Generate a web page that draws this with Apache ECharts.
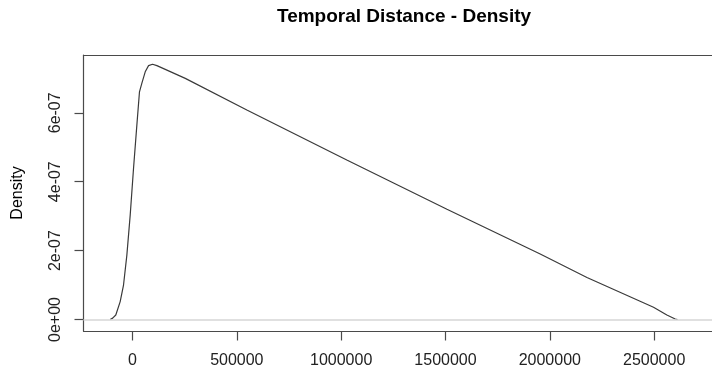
<!DOCTYPE html>
<html>
<head>
<meta charset="utf-8">
<title>Temporal Distance - Density</title>
<script src="https://cdn.jsdelivr.net/npm/echarts@6/dist/echarts.min.js"></script>
<style>
  html, body { margin: 0; padding: 0; background: #fff; }
  #chart { width: 712px; height: 371px; }
</style>
</head>
<body>
<div id="chart"></div>
<script>
// Kernel density estimate of temporal distance (x) and density (y)
var distance = [-107000, -95000, -80000, -59000, -43000, -27000, -11000, 5000, 21000, 33500,
                45000, 61000, 77000, 96000, 117000, 253000, 548000, 1027000, 1507000, 1954000,
                2178000, 2497000, 2561000, 2601000, 2612000];
var density = [0.0e-7, 0.04e-7, 0.13e-7, 0.52e-7, 1.00e-7, 1.87e-7, 3.03e-7, 4.39e-7, 5.65e-7, 6.61e-7,
               6.86e-7, 7.19e-7, 7.37e-7, 7.41e-7, 7.37e-7, 7.00e-7, 6.08e-7, 4.63e-7, 3.20e-7, 1.90e-7,
               1.22e-7, 0.354e-7, 0.13e-7, 0.015e-7, 0.0e-7];

// Axis ticks
var xTicks = [0, 500000, 1000000, 1500000, 2000000, 2500000];
var yTicks = [0, 2e-7, 4e-7, 6e-7];

var FONT = '"Liberation Sans", Arial, sans-serif';
var FRAME = { color: '#4a4a4a', width: 1.2 };

function expLabel(v) {
  // R-style scientific notation, e.g. 2e-07, 0e+00
  var s = Number(v).toExponential(0);
  var m = s.match(/^(-?\d)e([+-])(\d+)$/);
  if (!m) return s;
  var e = m[3].length < 2 ? '0' + m[3] : m[3];
  return m[1] + 'e' + m[2] + e;
}

var points = distance.map(function (d, i) { return [d, density[i]]; });

// The plot frame runs past the right edge of the canvas, so the x range
// ends where the canvas ends and the frame is drawn from axis lines.
var X_MIN = -234800, X_MAX = 2777300;
var Y_MIN = -0.334e-7, Y_MAX = 7.678e-7;

var chart = echarts.init(document.getElementById('chart'), null, { renderer: 'canvas' });
chart.setOption({
  animation: false,
  backgroundColor: '#ffffff',
  graphic: [{
    type: 'text',
    x: 404,
    y: 17,
    style: {
      text: 'Temporal Distance - Density',
      font: 'bold 19px ' + FONT,
      fill: '#000000',
      align: 'center',
      verticalAlign: 'middle'
    }
  }],
  grid: {
    left: 83.5,
    top: 55,
    right: 0,
    bottom: 40,
    outerBoundsMode: 'none',
    containLabel: false,
    show: false
  },
  xAxis: [{
    type: 'value',
    position: 'bottom',
    min: X_MIN,
    max: X_MAX,
    splitLine: { show: false },
    axisLine: { show: true, onZero: false, lineStyle: FRAME },
    axisTick: {
      show: true, inside: false, length: 9.5,
      customValues: xTicks,
      lineStyle: FRAME
    },
    axisLabel: {
      show: true,
      customValues: xTicks,
      margin: 22,
      color: '#222222',
      fontSize: 16,
      fontFamily: FONT,
      formatter: function (v) { return String(Math.round(v)); }
    }
  }, {
    type: 'value',
    position: 'top',
    min: X_MIN,
    max: X_MAX,
    splitLine: { show: false },
    axisLine: { show: true, onZero: false, lineStyle: FRAME },
    axisTick: { show: false },
    axisLabel: { show: false }
  }],
  yAxis: {
    type: 'value',
    min: Y_MIN,
    max: Y_MAX,
    name: 'Density',
    nameLocation: 'middle',
    nameRotate: 90,
    nameGap: 58,
    nameTextStyle: { color: '#000000', fontSize: 16, fontFamily: FONT },
    splitLine: { show: false },
    axisLine: { show: true, onZero: false, lineStyle: FRAME },
    axisTick: {
      show: true, inside: false, length: 9,
      customValues: yTicks,
      lineStyle: FRAME
    },
    axisLabel: {
      show: true,
      customValues: yTicks,
      rotate: 90,
      margin: 28,
      align: 'center',
      verticalAlign: 'middle',
      color: '#222222',
      fontSize: 16,
      fontFamily: FONT,
      formatter: expLabel
    }
  },
  series: [{
    type: 'line',
    xAxisIndex: 0,
    data: points,
    showSymbol: false,
    symbol: 'none',
    smooth: false,
    clip: true,
    lineStyle: { color: '#3a3a3a', width: 1.2 },
    markLine: {
      silent: true,
      symbol: ['none', 'none'],
      label: { show: false },
      lineStyle: { color: '#d6d6d6', width: 1.5, type: 'solid' },
      data: [{ yAxis: 0 }]
    },
    z: 3
  }]
});
</script>
</body>
</html>
